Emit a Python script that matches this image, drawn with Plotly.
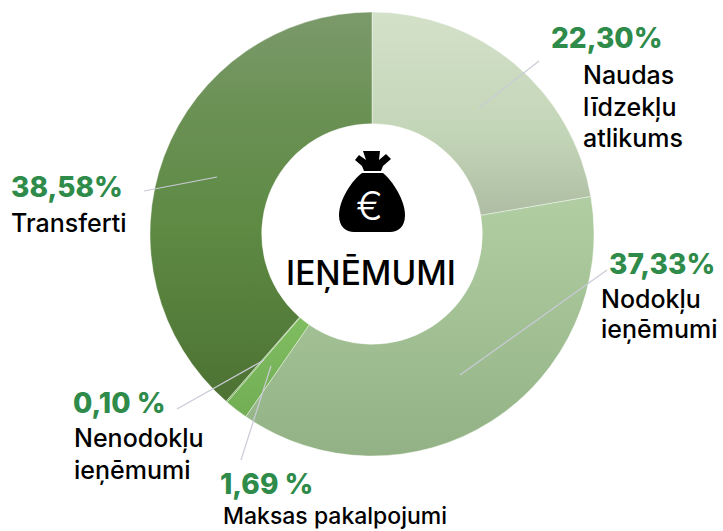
import json
import plotly.graph_objects as go

W, H = 723, 531
FONT = "Inter, 'Noto Sans', sans-serif"
GREEN = "#2e8b4a"

categories = ["Naudas līdzekļu atlikums", "Nodokļu ieņēmumi", "Maksas pakalpojumi",
              "Nenodokļu ieņēmumi", "Transferti"]
values = [22.30, 37.33, 1.69, 0.10, 38.58]
percent_labels = ["22,30%", "37,33%", "1,69 %", "0,10 %", "38,58%"]
solid_colors = ["#c4d5b8", "#a5c396", "#7fba5f", "#7fba5f", "#5f8a47"]
gradients = [[[0, "#d3e1c9"], [0.6, "#c3d5b7"], [1, "#aebda3"]],
             [[0, "#b1cea3"], [1, "#92b285"]],
             [[0, "#80bc60"], [1, "#72ae54"]],
             [[0, "#80bc60"], [1, "#72ae54"]],
             [[0, "#7b9a6b"], [0.25, "#6b9155"], [0.55, "#5e8a44"], [1, "#4d7233"]]]


def px(x):
    return x / W


def py(y):
    return 1 - y / H


def path(cmds):
    out = []
    for c in cmds:
        if isinstance(c, str):
            out.append(c)
        else:
            out.append(f"{px(c[0]):.5f},{py(c[1]):.5f}")
    return " ".join(out)


CX, CY, R = 372, 234, 222
fig = go.Figure(go.Pie(
    labels=categories, values=values, sort=False, direction="clockwise", rotation=0,
    hole=0.497, textinfo="none", showlegend=False,
    marker=dict(colors=solid_colors, line=dict(color="rgba(255,255,255,0.4)", width=1)),
    domain=dict(x=[px(CX - R), px(CX + R)], y=[py(CY + R), py(CY - R)]),
))

leaders = [((539, 61), (479, 108)), ((607, 270), (460, 375)), ((144, 191), (217, 177)),
           ((177, 409), (264, 360)), ((241, 460), (271, 366))]
shapes = [dict(type="line", xref="paper", yref="paper", x0=px(a[0]), y0=py(a[1]),
               x1=px(b[0]), y1=py(b[1]), line=dict(color="#c9cbd6", width=1.2))
          for a, b in leaders]

bag = path(["M", (362, 173), "L", (383, 173),
            "C", (392, 180), (405, 200), (405, 215),
            "C", (405, 227), (398, 232), (390, 232),
            "L", (354, 232),
            "C", (346, 232), (339, 227), (339, 215),
            "C", (339, 200), (352, 180), (362, 173), "Z"])
tie = path(["M", (364, 171), "L", (381, 171), "L", (383, 166), "L", (391, 159), "L", (386, 154),
            "L", (379, 160), "L", (380, 151), "L", (363, 151), "L", (366, 160),
            "L", (359, 155), "L", (355, 160), "L", (362, 166), "Z"])
for d in (bag, tie):
    shapes.append(dict(type="path", xref="paper", yref="paper", path=d,
                       fillcolor="#000000", line=dict(width=0)))

annotations = []


def add(text, x, y, size, color, weight=500):
    annotations.append(dict(
        text=text, x=px(x), y=py(y), xref="paper", yref="paper",
        xanchor="left", yanchor="middle", showarrow=False,
        font=dict(family=FONT, size=size, color=color, weight=weight)))


P, B = 28, 25
add(percent_labels[0], 549, 38, P, GREEN, 800)
add("Naudas", 581, 75, B, "#000000")
add("līdzekļu", 581, 107, B, "#000000")
add("atlikums", 581, 138, B, "#000000")
add(percent_labels[1], 607, 264, P, GREEN, 800)
add("Nodokļu", 599, 299, B, "#000000")
add("ieņēmumi", 599, 329, B, "#000000")
add(percent_labels[4], 9, 187, P, GREEN, 800)
add("Transferti", 9, 223, B, "#000000")
add(percent_labels[3], 71, 403, P, GREEN, 800)
add("Nenodokļu", 72, 438, B, "#000000")
add("ieņēmumi", 72, 470, B, "#000000")
add(percent_labels[2], 218, 483.5, P, GREEN, 800)
add("Maksas pakalpojumi", 221, 516, 23, "#000000")
add("IEŅĒMUMI", 284, 273, 33.5, "#000000")
annotations.append(dict(text="€", x=px(370), y=py(205), xref="paper", yref="paper",
                        xanchor="center", yanchor="middle", showarrow=False,
                        font=dict(family=FONT, size=40, color="#ffffff", weight=300)))

fig.update_layout(width=W, height=H, margin=dict(l=0, r=0, t=0, b=0),
                  paper_bgcolor="#ffffff", shapes=shapes, annotations=annotations)

post = """
document.body.style.margin = '0';
var gd = document.getElementById('{plot_id}');
var grads = %s;
var svg = gd.querySelector('.main-svg');
var defs = svg.querySelector('defs');
var NS = 'http://www.w3.org/2000/svg';
gd.querySelectorAll('.slice path.surface').forEach(function (p, i) {
  var g = document.createElementNS(NS, 'linearGradient');
  g.setAttribute('id', 'slicegrad' + i);
  g.setAttribute('x1', '0'); g.setAttribute('y1', '0');
  g.setAttribute('x2', '0'); g.setAttribute('y2', '1');
  grads[i].forEach(function (st) {
    var s = document.createElementNS(NS, 'stop');
    s.setAttribute('offset', st[0]);
    s.setAttribute('stop-color', st[1]);
    g.appendChild(s);
  });
  defs.appendChild(g);
  p.style.fill = 'url(#slicegrad' + i + ')';
});
""" % json.dumps(gradients)

fig.write_html("out.html", post_script=post, config=dict(displayModeBar=False))
